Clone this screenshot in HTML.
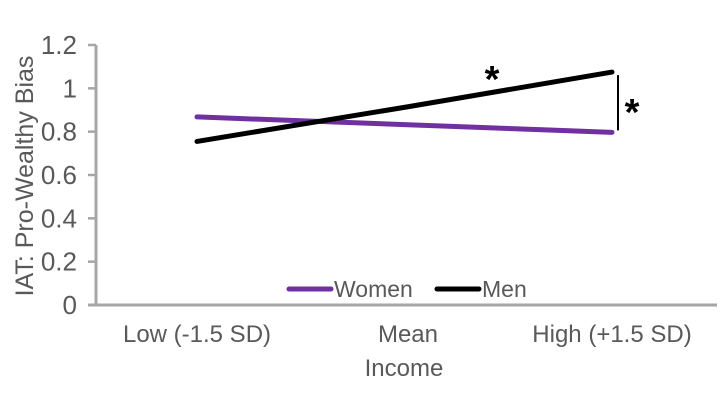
<!DOCTYPE html>
<html><head><meta charset="utf-8"><style>
body{margin:0;background:#fff;}
svg{display:block;font-family:"Liberation Sans",sans-serif;}
</style></head><body>
<svg id="chart" width="720" height="405"></svg>
<script>
const categories = ["Low (-1.5 SD)", "Mean", "High (+1.5 SD)"];
const yTicks = [0, 0.2, 0.4, 0.6, 0.8, 1, 1.2];
const yTickLabels = ["0", "0.2", "0.4", "0.6", "0.8", "1", "1.2"];
const seriesNames = ["Women", "Men"];
const womenValues = [0.868, 0.832, 0.797];
const menValues = [0.755, 0.915, 1.075];

const NS = "http://www.w3.org/2000/svg";
const svg = document.getElementById("chart");
function mk(tag, attrs, text) {
  const e = document.createElementNS(NS, tag);
  for (const k in attrs) e.setAttribute(k, attrs[k]);
  if (text !== undefined) e.textContent = text;
  svg.appendChild(e);
  return e;
}
const x0 = 96, x1 = 717, yBase = 305, yTop = 45, yMax = 1.2;
const yScale = v => yBase - (v / yMax) * (yBase - yTop);
const catX = i => [197, 408, 612][i];

yTicks.forEach((t, i) => {
  const y = yScale(t);
  const tk = mk("line", {x1: 88, x2: x0, y1: y, y2: y, stroke: "#a6a6a6", "stroke-width": 2.5});
  
  
  const lb = mk("text", {x: 77, y: y + 9, "text-anchor": "end", "font-size": 26, fill: "#595959"}, yTickLabels[i]);
  
  
});
const ya = mk("line", {x1: x0, x2: x0, y1: yTop, y2: yBase + 1, stroke: "#a6a6a6", "stroke-width": 3});


const xa = mk("line", {x1: 88, x2: x1, y1: yBase, y2: yBase, stroke: "#a6a6a6", "stroke-width": 3});



categories.forEach((c, i) => {
  const t = mk("text", {x: catX(i), y: 342, "text-anchor": "middle", "font-size": 24, fill: "#595959"}, c);
  
  
});
const xt = mk("text", {x: 404, y: 376, "text-anchor": "middle", "font-size": 24, fill: "#595959"}, "Income");


const yt = mk("text", {x: 0, y: 0, "text-anchor": "middle", "font-size": 25, fill: "#595959", transform: "translate(33,176) rotate(-90)"}, "IAT: Pro-Wealthy Bias");



function drawSeries(vals, color, name) {
  const pts = vals.map((v, i) => catX(i) + "," + yScale(v)).join(" ");
  const p = mk("polyline", {points: pts, fill: "none", stroke: color, "stroke-width": 5, "stroke-linecap": "round"});
  
  
}
drawSeries(womenValues, "#7030a0", "women-line");
drawSeries(menValues, "#000000", "men-line");

const br = mk("line", {x1: 618, x2: 618, y1: yScale(menValues[2]) + 3, y2: yScale(womenValues[2]) - 2, stroke: "#000", "stroke-width": 2});


const s1 = mk("text", {x: 492, y: 92, "text-anchor": "middle", "font-size": 38, "font-weight": "bold"}, "*");


const s2 = mk("text", {x: 632, y: 125, "text-anchor": "middle", "font-size": 38, "font-weight": "bold"}, "*");



const legColors = ["#7030a0", "#000000"];
const legX = [289, 437];
seriesNames.forEach((n, i) => {
  const l = mk("line", {x1: legX[i], x2: legX[i] + 42, y1: 289, y2: 289, stroke: legColors[i], "stroke-width": 5, "stroke-linecap": "round"});
  
  
  const t = mk("text", {x: legX[i] + 45, y: 297, "font-size": 23, fill: "#595959"}, n);
  
  
});
</script>
</body></html>
